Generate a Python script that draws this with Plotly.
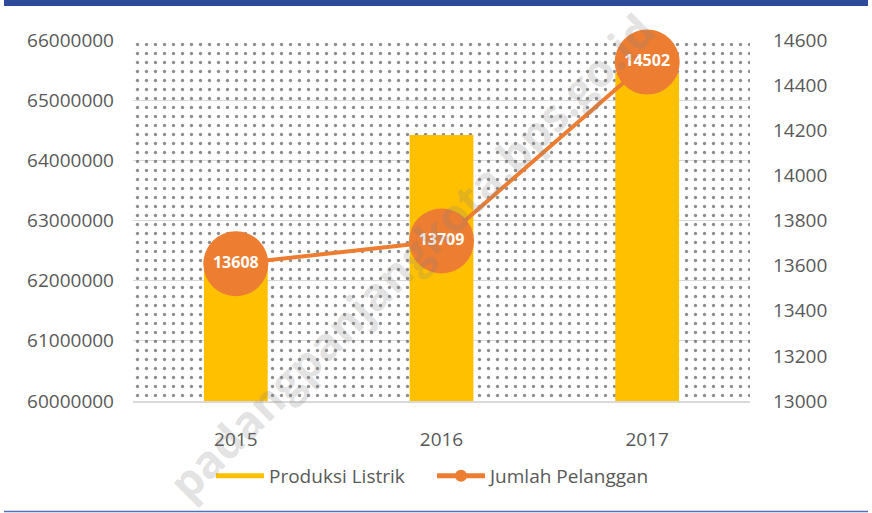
import plotly.graph_objects as go

# ---- data ----
years = ["2015", "2016", "2017"]
produksi_listrik = [62300000, 64420000, 65450000]
jumlah_pelanggan = [13608, 13709, 14502]
left_ticks = [60000000, 61000000, 62000000, 63000000, 64000000, 65000000, 66000000]
right_ticks = [13000, 13200, 13400, 13600, 13800, 14000, 14200, 14400, 14600]

W, H = 872, 513
ML, MR, MT, MB = 133, 122, 40, 112
PH = H - MT - MB


def py(pix):
    """pixel row -> paper y"""
    return (H - MB - pix) / PH


def px(pix):
    return (pix - ML) / (W - ML - MR)


FONT = "Open Sans"
GREY = "#595959"
YELLOW = "#FFC000"
ORANGE = "#ED7D31"

fig = go.Figure()

# dotted plot-area background (base subplot, hidden axes)
fig.add_trace(go.Scatter(
    x=[0, 1, 1, 0, 0], y=[0, 0, 1, 1, 0], xaxis="x", yaxis="y",
    mode="lines", line=dict(width=0), fill="toself",
    fillcolor="rgba(0,0,0,0)",
    fillpattern=dict(shape=".", size=9, solidity=0.11, fgcolor="#1e1e1e",
                     bgcolor="rgba(0,0,0,0)", fillmode="overlay"),
    hoverinfo="skip", showlegend=False,
))

fig.add_trace(go.Bar(
    x=years, y=produksi_listrik, name="Produksi Listrik",
    marker=dict(color=YELLOW, line=dict(width=0)), width=0.31,
    xaxis="x2", yaxis="y2", showlegend=False,
))

# legend proxy for the bars (wide swatch)
fig.add_trace(go.Scatter(
    x=[None], y=[None], name="Produksi Listrik", mode="lines",
    line=dict(color=YELLOW, width=12), xaxis="x2", yaxis="y2",
    hoverinfo="skip",
))

fig.add_trace(go.Scatter(
    x=years, y=jumlah_pelanggan, name="Jumlah Pelanggan",
    mode="lines+markers+text",
    line=dict(color=ORANGE, width=4),
    marker=dict(color=ORANGE, size=65, line=dict(width=0)),
    text=[str(v) for v in jumlah_pelanggan], textposition="middle center",
    textfont=dict(family=FONT, size=16, color="white", weight="bold"),
    cliponaxis=False,
    xaxis="x2", yaxis="y3",
))

fig.update_layout(
    width=W, height=H,
    margin=dict(l=ML, r=MR, t=MT, b=MB),
    paper_bgcolor="white", plot_bgcolor="rgba(0,0,0,0)",
    font=dict(family=FONT, size=19, color=GREY),
    xaxis=dict(range=[0, 1], visible=False, fixedrange=True),
    yaxis=dict(range=[0, 1], visible=False, fixedrange=True),
    xaxis2=dict(type="category", overlaying="x", anchor="y2",
                showgrid=False, showline=True, linecolor="#D9D9D9", linewidth=1.5,
                ticks="", ticklabelstandoff=20,
                tickfont=dict(family=FONT, size=19, color=GREY)),
    yaxis2=dict(overlaying="y", anchor="x2", side="left",
                range=[60000000, 66000000], tickvals=left_ticks,
                tickformat="d", showgrid=True, gridcolor="#D9D9D9", gridwidth=1,
                zeroline=False, showline=False, ticks="", ticklabelstandoff=18,
                tickfont=dict(family=FONT, size=19, color=GREY)),
    yaxis3=dict(overlaying="y", anchor="x2", side="right",
                range=[13000, 14600], tickvals=right_ticks, tickformat="d",
                showgrid=False, zeroline=False, showline=False, ticks="",
                ticklabelstandoff=22,
                tickfont=dict(family=FONT, size=19, color=GREY)),
    legend=dict(orientation="h", x=px(432), xanchor="center",
                y=py(476), yanchor="middle", itemsizing="constant",
                font=dict(family=FONT, size=19, color=GREY),
                bgcolor="rgba(0,0,0,0)", itemwidth=48, tracegroupgap=0,
                entrywidth=158, entrywidthmode="pixels"),
    showlegend=True,
    shapes=[
        dict(type="rect", xref="paper", yref="paper",
             x0=px(4), x1=px(868), y0=py(6), y1=py(0),
             fillcolor="#2E4B9B", line=dict(width=0), layer="above"),
        dict(type="line", xref="paper", yref="paper",
             x0=px(4), x1=px(868), y0=py(511.5), y1=py(511.5),
             line=dict(color="#5670B3", width=1.5)),
    ],
    annotations=[
        dict(text="padangpanjangkota.bps.go.id", xref="paper", yref="paper",
             x=px(410), y=py(256), xanchor="center", yanchor="middle",
             showarrow=False, textangle=-45,
             font=dict(family=FONT, size=45, color="rgba(128,128,128,0.24)",
                       weight="bold")),
    ],
)

fig.write_html("out.html", config={"displayModeBar": False},
               post_script="document.body.style.margin='0';")
